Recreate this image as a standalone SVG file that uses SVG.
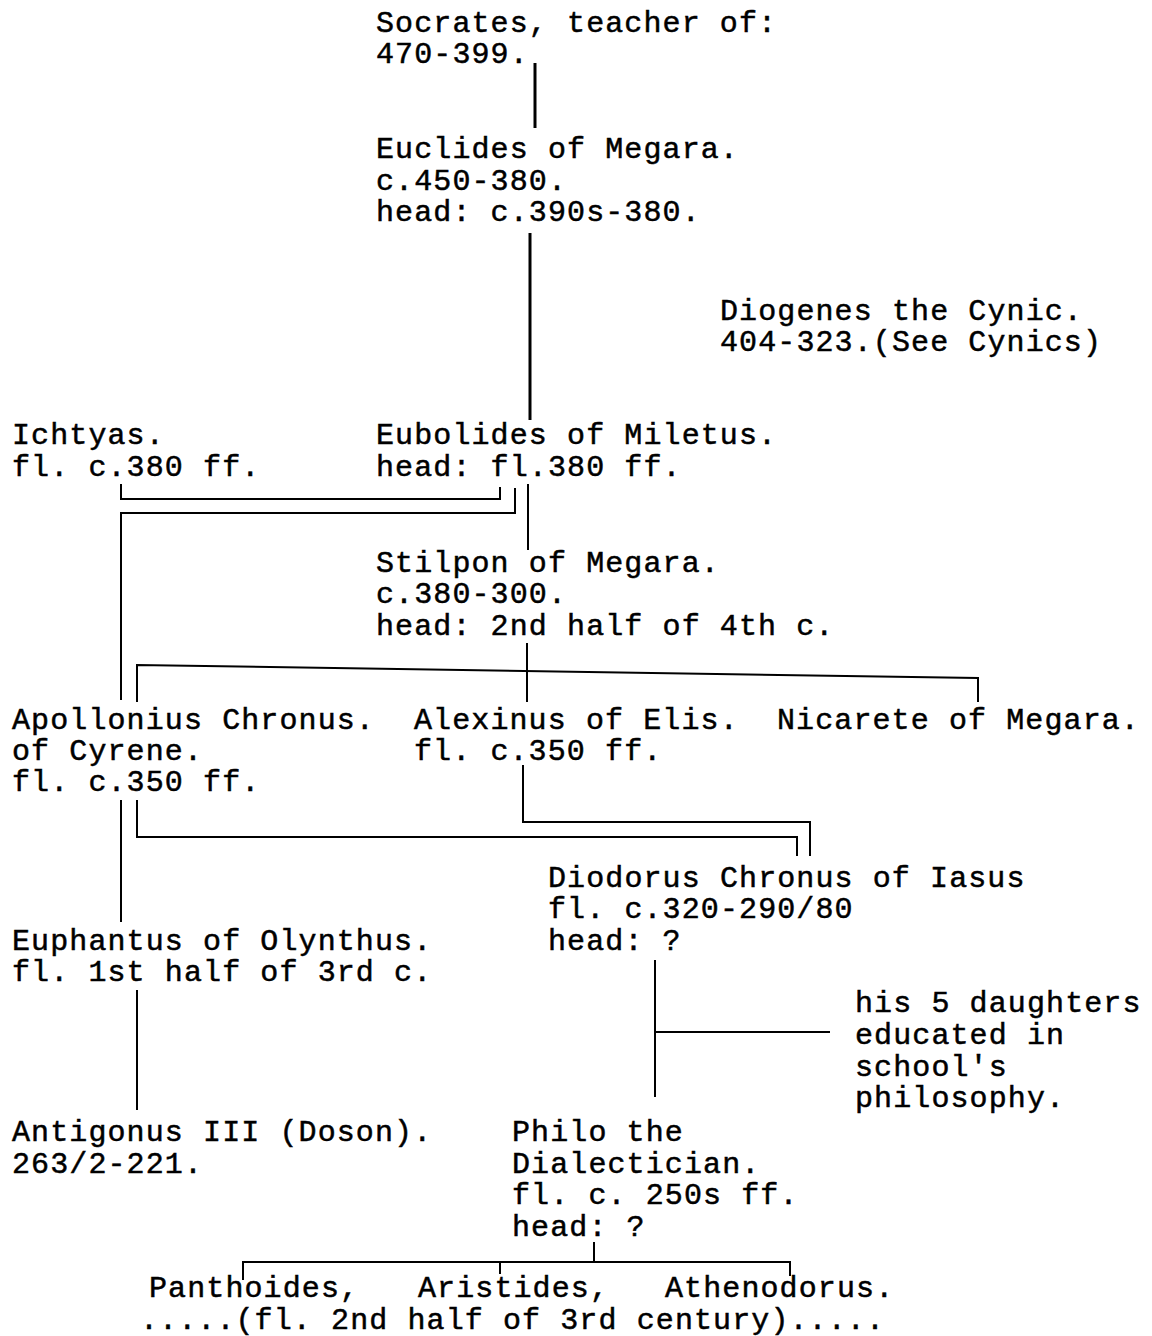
<svg xmlns="http://www.w3.org/2000/svg" width="1152" height="1336" viewBox="0 0 1152 1336">
<style>
text{font-family:"Liberation Mono","Courier New",monospace;font-size:30px;letter-spacing:1.1px;fill:#000;stroke:#000;stroke-width:0.5}
.c line,.c polyline{stroke:#000;stroke-width:2;fill:none}
.c .thick{stroke-width:3}
</style>
<rect width="1152" height="1336" fill="#fff"/>
<g class="c" id="connectors">
<line class="thick" x1="535" y1="63" x2="535" y2="128"/>
<line class="thick" x1="530" y1="233" x2="530" y2="420"/>
<polyline points="121,484 121,499 500,499 500,487"/>
<polyline points="121,700 121,513 515,513 515,488"/>
<line x1="528" y1="484" x2="528" y2="550"/>
<line x1="527" y1="643" x2="527" y2="702"/>
<polyline points="137,702 137,665 978,678 978,702"/>
<line x1="121" y1="800" x2="121" y2="922"/>
<polyline points="137,800 137,837 797,837 797,856"/>
<polyline points="523,765 523,822 810,822 810,856"/>
<line x1="655" y1="960" x2="655" y2="1097"/>
<line x1="655" y1="1032" x2="830" y2="1032"/>
<line x1="137" y1="990" x2="137" y2="1110"/>
<line x1="594" y1="1242" x2="594" y2="1262"/>
<polyline points="243,1280 243,1262 790,1262 790,1276"/>
<line x1="500" y1="1262" x2="500" y2="1274"/>
</g>
<g id="socrates"><text x="376" y="32">Socrates, teacher of:</text><text x="376" y="63">470-399.</text></g>
<g id="euclides"><text x="376" y="158">Euclides of Megara.</text><text x="376" y="190">c.450-380.</text><text x="376" y="221">head: c.390s-380.</text></g>
<g id="diogenes"><text x="720" y="320">Diogenes the Cynic.</text><text x="720" y="351">404-323.(See Cynics)</text></g>
<g id="ichtyas"><text x="12" y="444">Ichtyas.</text><text x="12" y="476">fl. c.380 ff.</text></g>
<g id="eubolides"><text x="376" y="444">Eubolides of Miletus.</text><text x="376" y="476">head: fl.380 ff.</text></g>
<g id="stilpon"><text x="376" y="572">Stilpon of Megara.</text><text x="376" y="603">c.380-300.</text><text x="376" y="635">head: 2nd half of 4th c.</text></g>
<g id="apollonius"><text x="12" y="729">Apollonius Chronus.</text><text x="12" y="760">of Cyrene.</text><text x="12" y="791">fl. c.350 ff.</text></g>
<g id="alexinus"><text x="414" y="729">Alexinus of Elis.</text><text x="414" y="760">fl. c.350 ff.</text></g>
<g id="nicarete"><text x="777" y="729">Nicarete of Megara.</text></g>
<g id="diodorus"><text x="548" y="887">Diodorus Chronus of Iasus</text><text x="548" y="918">fl. c.320-290/80</text><text x="548" y="950">head: ?</text></g>
<g id="euphantus"><text x="12" y="950">Euphantus of Olynthus.</text><text x="12" y="981">fl. 1st half of 3rd c.</text></g>
<g id="daughters"><text x="855" y="1012">his 5 daughters</text><text x="855" y="1044">educated in</text><text x="855" y="1076">school's</text><text x="855" y="1107">philosophy.</text></g>
<g id="antigonus"><text x="12" y="1141">Antigonus III (Doson).</text><text x="12" y="1173">263/2-221.</text></g>
<g id="philo"><text x="512" y="1141">Philo the</text><text x="512" y="1173">Dialectician.</text><text x="512" y="1204">fl. c. 250s ff.</text><text x="512" y="1236">head: ?</text></g>
<g id="panthoides"><text x="149" y="1297">Panthoides,</text></g>
<g id="aristides"><text x="418" y="1297">Aristides,</text></g>
<g id="athenodorus"><text x="665" y="1297">Athenodorus.</text></g>
<g id="century"><text x="140" y="1329">.....(fl. 2nd half of 3rd century).....</text></g>
</svg>
